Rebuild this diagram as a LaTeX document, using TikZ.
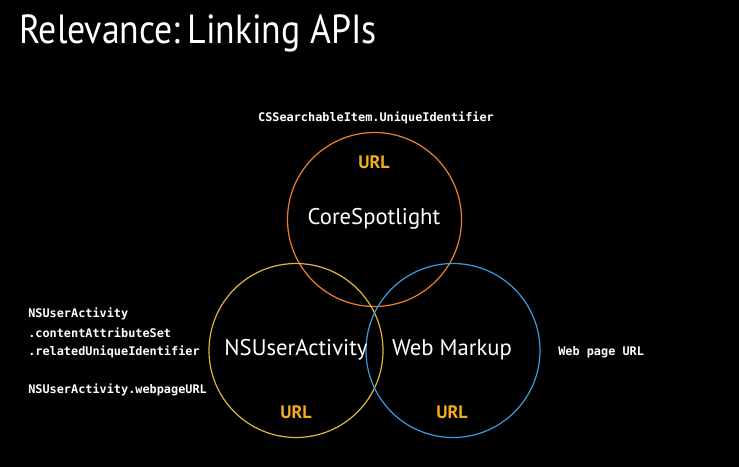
\documentclass[tikz,border=0pt]{standalone}
\usepackage{fontspec}
\setmainfont{PT Sans}
\newfontfamily\codefont{DejaVu Sans Mono}
\newfontfamily\titlefont[FakeStretch=0.88]{PT Sans}
\definecolor{bg}{HTML}{000000}
\definecolor{corange}{HTML}{F07F2A}
\definecolor{cyellow}{HTML}{E0B342}
\definecolor{cblue}{HTML}{3A9BE0}
\definecolor{urlc}{HTML}{F5AC1E}
\begin{document}
\begin{tikzpicture}[x=0.75pt,y=-0.75pt,
  ring/.style={draw,line width=0.9pt,circle,minimum size=174*0.75pt,inner sep=0pt},
  api/.style={text=white,font=\fontsize{17}{20}\selectfont,inner sep=0pt},
  urltag/.style={text=urlc,font=\fontsize{13.5}{16}\selectfont\bfseries,inner sep=0pt},
  code/.style={text=white,font=\codefont\bfseries\fontsize{8.9}{11}\selectfont,inner sep=0pt,anchor=west},
  title/.style={text=white,font=\titlefont\fontsize{30.5}{36}\selectfont,inner sep=0pt,anchor=west}]
\fill[bg] (0,0) rectangle (739,467);
\useasboundingbox (0,0) rectangle (739,467);
\node[title] (ttl) at (19,33) {Relevance:\,Linking APIs};
\node[ring,corange] (cs) at (374.5,219.5) {};
\node[ring,cyellow] (ua) at (296,350.5) {};
\node[ring,cblue] (wm) at (453,350.5) {};
\node[api] (csl) at (374,219) {CoreSpotlight};
\node[api] (ual) at (296,350) {NSUserActivity};
\node[api] (wml) at (452,350) {Web Markup};
\node[urltag] (u1) at (374,162) {URL};
\node[urltag] (u2) at (296,412) {URL};
\node[urltag] (u3) at (452,412) {URL};
\node[code,anchor=center] (c1) at (376,118) {CSSearchableItem.UniqueIdentifier};
\node[code] (c2) at (28,314) {NSUserActivity};
\node[code] (c3) at (28,333) {.contentAttributeSet};
\node[code] (c4) at (28,352) {.relatedUniqueIdentifier};
\node[code] (c5) at (28,390) {NSUserActivity.webpageURL};
\node[code] (c6) at (558,352) {Web page URL};
\end{tikzpicture}
\end{document}
